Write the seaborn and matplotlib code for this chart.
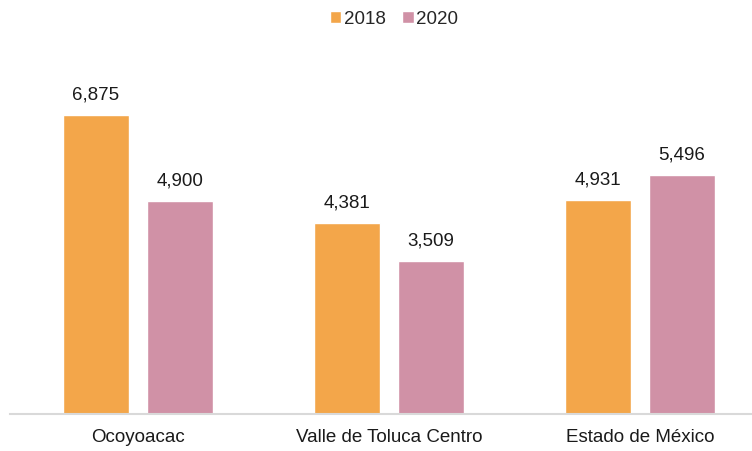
import matplotlib
matplotlib.use("Agg")
import matplotlib.pyplot as plt
from matplotlib.patches import Patch
import seaborn as sns
import pandas as pd

categories = ["Ocoyoacac", "Valle de Toluca Centro", "Estado de México"]
years = ["2018", "2020"]
values_2018 = [6875, 4381, 4931]
values_2020 = [4900, 3509, 5496]

colors = {"2018": "#F3A64A", "2020": "#D091A6"}

df = pd.DataFrame({
    "region": categories * 2,
    "year": [years[0]] * 3 + [years[1]] * 3,
    "value": values_2018 + values_2020,
})

sns.set_theme(style="white")
plt.rcParams["font.family"] = ["Liberation Sans", "DejaVu Sans"]

fig = plt.figure(figsize=(7.52, 4.52), dpi=100)
ax = fig.add_axes([10 / 752, 37 / 452, 742 / 752, 370 / 452])

sns.barplot(data=df, x="region", y="value", hue="year", order=categories,
            hue_order=years, palette=colors, width=0.67, gap=0.215,
            saturation=1, legend=False, ax=ax)

for container in ax.containers:
    ax.bar_label(container, labels=[f"{v:,.0f}" for v in container.datavalues],
                 padding=9, fontsize=13.5, color="#1a1a1a")

ax.set_xlim(-0.51, 2.446)
ax.set_ylim(0, 8508)
ax.set_xlabel("")
ax.set_ylabel("")
ax.set_yticks([])
ax.tick_params(axis="x", length=0, labelsize=13.5, colors="#1a1a1a", pad=10)
for side in ["top", "right", "left"]:
    ax.spines[side].set_visible(False)
ax.spines["bottom"].set_color("#D9D9D9")
ax.spines["bottom"].set_linewidth(1.5)

handles = [Patch(facecolor=colors[y], label=y) for y in years]
fig.legend(handles=handles, loc="center", bbox_to_anchor=(394 / 752, 1 - 20 / 452),
           ncol=2, frameon=False, fontsize=13.5, handlelength=0.6, handleheight=0.6,
           handletextpad=0.15, columnspacing=0.9)

fig.savefig("out.png", dpi=100)
